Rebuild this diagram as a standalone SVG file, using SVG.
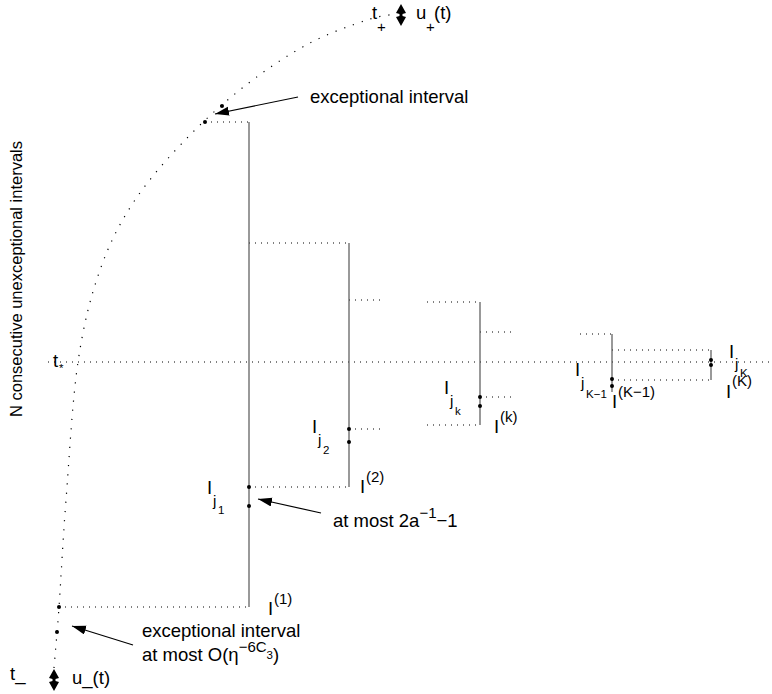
<svg xmlns="http://www.w3.org/2000/svg" width="772" height="694" viewBox="0 0 772 694">
<style>
.t{font-family:"Liberation Sans",Arial,Helvetica,sans-serif;font-size:18.5px;fill:#000}
.s{font-size:15px}
.ss{font-size:11.5px}
.dl{stroke:#000;stroke-width:1;stroke-dasharray:1 5;fill:none}
.cv{stroke:#000;stroke-width:1.2;stroke-dasharray:1.2 8;fill:none}
.vl{stroke:#555;stroke-width:1.2;fill:none}
.ar{stroke:#000;stroke-width:1.2;fill:none}
.dt{fill:#000}
</style>
<defs>
<marker id="ah" markerUnits="userSpaceOnUse" markerWidth="16" markerHeight="10" refX="14" refY="4.5" orient="auto">
<path d="M0,0 L14,4.5 L0,9 Z" fill="#000"/>
</marker>
<path id="dia" d="M0,-11 L5,-2 L1.5,-1 L1.5,1 L5,2 L0,11 L-5,2 L-1.5,1 L-1.5,-1 L-5,-2 Z" fill="#000"/>
</defs>

<g id="axis-label">
<text class="t" style="font-size:16.5px" transform="translate(22,279) rotate(-90)" text-anchor="middle">N consecutive unexceptional intervals</text>
</g>

<g id="connectors">
<path class="cv" d="M54,668 C54.8,657.8 57,635 59,607 C61,579 62.8,540.8 66,500 C69.2,459.2 72.3,400.3 78,362 C83.7,323.7 90.5,297 100,270 C109.5,243 120,222.5 135,200 C150,177.5 170.8,154.7 190,135 C209.2,115.3 230,97.3 250,82 C270,66.7 290.5,53.3 310,43 C329.5,32.7 352.7,24.8 367,20 C381.3,15.2 391.2,15 396,14"/>
<line class="dl" x1="48" y1="362" x2="772" y2="362"/>
<line class="dl" x1="205" y1="122" x2="249" y2="122"/>
<line class="dl" x1="59" y1="607" x2="249" y2="607"/>
<line class="dl" x1="249" y1="243" x2="349" y2="243"/>
<line class="dl" x1="249" y1="487" x2="349" y2="487"/>
<line class="dl" x1="349" y1="300" x2="383" y2="300"/>
<line class="dl" x1="349" y1="429" x2="383" y2="429"/>
<line class="dl" x1="427" y1="302" x2="480" y2="302"/>
<line class="dl" x1="480" y1="332" x2="515" y2="332"/>
<line class="dl" x1="427" y1="425" x2="480" y2="425"/>
<line class="dl" x1="480" y1="397" x2="515" y2="397"/>
<line class="dl" x1="580" y1="334" x2="612" y2="334"/>
<line class="dl" x1="612" y1="350" x2="711" y2="350"/>
<line class="dl" x1="612" y1="380" x2="711" y2="380"/>
<line class="ar" x1="298" y1="97" x2="215" y2="114" marker-end="url(#ah)"/>
<line class="ar" x1="321" y1="513" x2="258" y2="499" marker-end="url(#ah)"/>
<line class="ar" x1="133" y1="645" x2="72" y2="626" marker-end="url(#ah)"/>
</g>

<g id="endpoints">
<use href="#dia" x="401" y="15"/>
<use href="#dia" x="54" y="680"/>
<text class="t" x="372" y="19">t</text><text class="t s" x="377" y="32">+</text>
<text class="t" x="416" y="19">u</text><text class="t s" x="426" y="32">+</text><text class="t" x="434" y="19">(t)</text>
<text class="t" x="10" y="680">t_</text>
<text class="t" x="72" y="684">u_(t)</text>
<text class="t" x="53" y="367">t</text><text class="t ss" x="59" y="372">*</text>
</g>

<g id="exceptional-top">
<circle class="dt" cx="205" cy="122" r="2"/>
<circle class="dt" cx="222" cy="106" r="2"/>
<text class="t" x="310" y="103">exceptional interval</text>
</g>

<g id="exceptional-bottom">
<circle class="dt" cx="59" cy="607" r="2"/>
<circle class="dt" cx="57" cy="632" r="2"/>
<text class="t" x="142" y="637">exceptional interval</text>
<text class="t" x="142" y="661">at most O(η<tspan class="s" dy="-9">−6C</tspan><tspan class="ss" dy="7">3</tspan><tspan dy="2">)</tspan></text>
</g>

<g id="interval-1">
<line class="vl" x1="249" y1="122" x2="249" y2="607"/>
<circle class="dt" cx="249" cy="487" r="2"/>
<circle class="dt" cx="249" cy="506" r="2"/>
<text class="t" x="207" y="494">I</text><text class="t s" x="213" y="506">j</text><text class="t ss" x="218" y="514">1</text>
<text class="t" x="268" y="615">I</text><text class="t s" x="274" y="604">(1)</text>
<text class="t" x="333" y="527">at most 2a<tspan class="s" dy="-9">−1</tspan><tspan dy="9">−1</tspan></text>
</g>

<g id="interval-2">
<line class="vl" x1="349" y1="243" x2="349" y2="487"/>
<circle class="dt" cx="349" cy="429" r="2"/>
<circle class="dt" cx="349" cy="442" r="2"/>
<text class="t" x="312" y="433">I</text><text class="t s" x="318" y="445">j</text><text class="t ss" x="323" y="454">2</text>
<text class="t" x="360" y="493">I</text><text class="t s" x="366" y="482">(2)</text>
</g>

<g id="interval-k">
<line class="vl" x1="480" y1="302" x2="480" y2="425"/>
<circle class="dt" cx="480" cy="397" r="2"/>
<circle class="dt" cx="480" cy="406" r="2"/>
<text class="t" x="444" y="394">I</text><text class="t s" x="450" y="406">j</text><text class="t ss" x="455" y="415">k</text>
<text class="t" x="494" y="433">I</text><text class="t s" x="500" y="422">(k)</text>
</g>

<g id="interval-K-1">
<line class="vl" x1="612" y1="334" x2="612" y2="392"/>
<circle class="dt" cx="612" cy="379" r="2"/>
<circle class="dt" cx="612" cy="386" r="2"/>
<text class="t" x="575" y="376">I</text><text class="t s" x="581" y="388">j</text><text class="t ss" x="586" y="398">K−1</text>
<text class="t" x="612" y="408">I</text><text class="t s" x="618" y="397">(K−1)</text>
</g>

<g id="interval-K">
<line class="vl" x1="711" y1="350" x2="711" y2="380"/>
<circle class="dt" cx="711" cy="360" r="2"/>
<circle class="dt" cx="711" cy="365" r="2"/>
<text class="t" x="729" y="358">I</text><text class="t s" x="735" y="369">j</text><text class="t ss" x="740" y="377">K</text>
<text class="t" x="726" y="398">I</text><text class="t s" x="732" y="386">(K)</text>
</g>
</svg>
